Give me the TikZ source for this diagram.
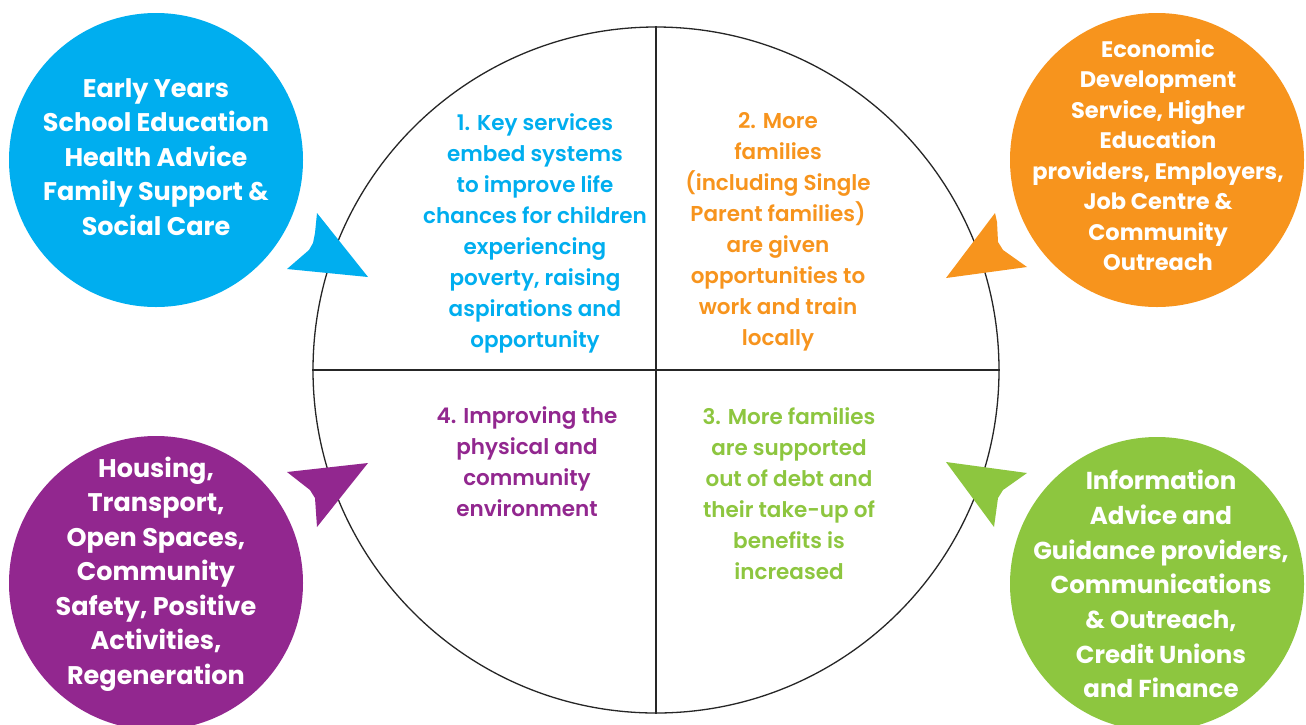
\documentclass[tikz,border=0pt]{standalone}
\usepackage{fontspec}
\newfontfamily\heavy{Poppins Bold}
\newfontfamily\medium{Poppins SemiBold}
\definecolor{cblue}{HTML}{00AEEF}
\definecolor{corange}{HTML}{F7941D}
\definecolor{cpurple}{HTML}{92278F}
\definecolor{cgreen}{HTML}{8DC63F}
\tikzset{
  bubble/.style={circle, inner sep=0pt, minimum size=294pt},
  bubbletext/.style={text=white, align=center, inner sep=0pt, font=\heavy\fontsize{25.5}{34.5}\selectfont},
  goal/.style={align=center, font=\medium\fontsize{21.5}{31}\selectfont}
}
\begin{document}
\begin{tikzpicture}[x=1pt,y=-1pt]
\useasboundingbox[fill=white] (0,0) rectangle (1306,724);
% central circle
\node[circle, draw=black!85, line width=1.3pt, minimum size=686pt, inner sep=0pt] (big) at (656,370) {};
\draw[black!85, line width=1.3pt] (big.north) -- (big.south);
\draw[black!85, line width=1.3pt] (big.west) -- (big.east);
% outer bubbles
\node[bubble, fill=cblue] (b1) at (156,160) {};
\node[bubble, fill=corange] (b2) at (1157,160) {};
\node[bubble, fill=cpurple] (b4) at (156,583) {};
\node[bubble, fill=cgreen] (b3) at (1157,584) {};
\node[bubbletext] (l1) at (156,157) {Early Years\\School Education\\Health Advice\\Family Support \&\\Social Care};
\node[bubbletext, font=\heavy\fontsize{22.5}{30.5}\selectfont] (l2) at (1158,155) {Economic\\Development\\Service, Higher\\Education\\providers, Employers,\\Job Centre \&\\Community\\Outreach};
\node[bubbletext] (l4) at (156,574) {Housing,\\Transport,\\Open Spaces,\\Community\\Safety, Positive\\Activities,\\Regeneration};
\node[bubbletext, font=\heavy\fontsize{24.5}{34.7}\selectfont] (l3) at (1161,584) {Information\\Advice and\\Guidance providers,\\Communications\\\& Outreach,\\Credit Unions\\and Finance};
% goal texts
\node[goal, text=cblue] (g1) at (535,233) {1. Key services\\embed systems\\to improve life\\chances for children\\experiencing\\poverty, raising\\aspirations and\\opportunity};
\node[goal, text=corange] (g2) at (778,232) {2. More\\families\\(including Single\\Parent families)\\are given\\opportunities to\\work and train\\locally};
\node[goal, text=cpurple] (g4) at (527,462) {4. Improving the\\physical and\\community\\environment};
\node[goal, text=cgreen] (g3) at (789,494) {3. More families\\are supported\\out of debt and\\their take-up of\\benefits is\\increased};
% arrow tips
\fill[cblue] (317,213) -- (315,233) -- (313,243) -- (309,250) -- (287,269) -- (368,277) -- cycle;
\fill[corange] (995,213) -- (946,278) -- (1027,267) -- (1003,250) -- (998,242) -- (997,222) -- cycle;
\fill[cpurple] (287,472) -- (368,463) -- (317,527) -- (315,498) -- (310,490) -- cycle;
\fill[cgreen] (946,462) -- (1027,473) -- (1003,490) -- (998,498) -- (994,527) -- cycle;
\end{tikzpicture}
\end{document}
